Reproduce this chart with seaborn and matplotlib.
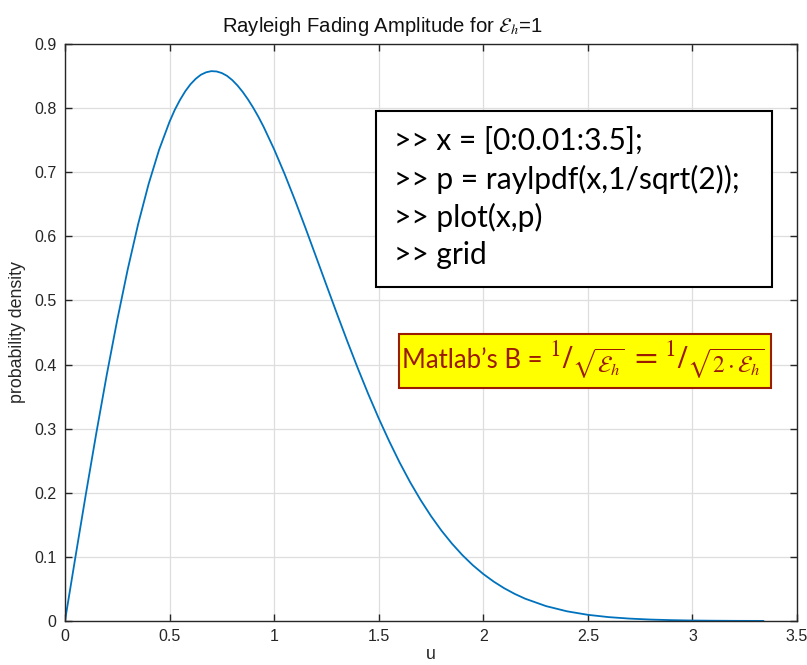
import matplotlib
matplotlib.use("Agg")
import matplotlib.pyplot as plt
import seaborn as sns
import pandas as pd
from matplotlib.patches import Rectangle

# values
u_vals = [0.000, 0.050, 0.100, 0.150, 0.200, 0.250, 0.300, 0.350, 0.400, 0.450,
          0.500, 0.525, 0.550, 0.575, 0.600, 0.625, 0.650, 0.675, 0.700, 0.725,
          0.750, 0.775, 0.800, 0.825, 0.850, 0.875, 0.900, 0.925, 0.950, 1.000,
          1.050, 1.100, 1.150, 1.200, 1.250, 1.300, 1.350, 1.400, 1.450, 1.500,
          1.550, 1.600, 1.650, 1.700, 1.750, 1.800, 1.850, 1.900, 1.950, 2.000,
          2.050, 2.100, 2.150, 2.200, 2.300, 2.400, 2.500, 2.600, 2.700, 2.800,
          2.900, 3.000, 3.100, 3.200, 3.340]
p_vals = [0.0000, 0.0998, 0.1980, 0.2933, 0.3843, 0.4697, 0.5484, 0.6193, 0.6817, 0.7350,
          0.7788, 0.7973, 0.8128, 0.8262, 0.8372, 0.8457, 0.8521, 0.8559, 0.8577, 0.8572,
          0.8547, 0.8503, 0.8437, 0.8353, 0.8252, 0.8136, 0.8007, 0.7864, 0.7707, 0.7358,
          0.6974, 0.6562, 0.6130, 0.5686, 0.5240, 0.4797, 0.4363, 0.3943, 0.3541, 0.3162,
          0.2806, 0.2473, 0.2167, 0.1889, 0.1637, 0.1410, 0.1208, 0.1028, 0.0870, 0.0733,
          0.0614, 0.0511, 0.0423, 0.0348, 0.0232, 0.0151, 0.0096, 0.0060, 0.0037, 0.0022,
          0.0013, 0.0007, 0.0004, 0.0002, 0.0001]
x_ticks = [0, 0.5, 1, 1.5, 2, 2.5, 3, 3.5]
x_tick_labels = ["0", "0.5", "1", "1.5", "2", "2.5", "3", "3.5"]
y_ticks = [0, 0.1, 0.2, 0.3, 0.4, 0.5, 0.6, 0.7, 0.8, 0.9]
y_tick_labels = ["0", "0.1", "0.2", "0.3", "0.4", "0.5", "0.6", "0.7", "0.8", "0.9"]
code_lines = [">> x = [0:0.01:3.5];", ">> p = raylpdf(x,1/sqrt(2));", ">> plot(x,p)", ">> grid"]
title_text = r"Rayleigh Fading Amplitude for $\mathcal{E}_h$=1"
note_prefix = "Matlab’s B = "
note_frac1 = r"$^1/_{\sqrt{\mathcal{E}_h}}$"
note_eq = r"$=$"
note_frac2 = r"$^1/_{\sqrt{2\cdot\mathcal{E}_h}}$"

sns.set_theme(style="white")
plt.rcParams["font.family"] = ["Liberation Sans", "DejaVu Sans"]
plt.rcParams["mathtext.fontset"] = "stix"

df = pd.DataFrame({"u": u_vals, "p": p_vals})

fig = plt.figure(figsize=(8.07, 6.65), dpi=100)
ax = fig.add_axes([0.0805, 0.0662, 0.9071, 0.8676])
sns.lineplot(data=df, x="u", y="p", ax=ax, color="#0072BD", linewidth=1.3)

ax.set_xlim(0, 3.5)
ax.set_ylim(0, 0.9)
ax.set_xticks(x_ticks)
ax.set_xticklabels(x_tick_labels)
ax.set_yticks(y_ticks)
ax.set_yticklabels(y_tick_labels)
ax.grid(True, color="#dedede", linewidth=0.9)
ax.tick_params(direction="in", length=5, width=1, colors="#262626",
               labelsize=11.5, top=True, right=True, bottom=True, left=True,
               labelcolor="#262626", pad=6)
for s in ax.spines.values():
    s.set_color("#262626")
    s.set_linewidth(1.0)
ax.set_xlabel("u", fontsize=12.8, color="#262626", labelpad=1)
ax.set_ylabel("probability density", fontsize=12.8, color="#262626", labelpad=6)
ax.set_title(title_text, fontsize=14.6, color="#111111", pad=9, x=0.434)

# code box
ax.add_patch(Rectangle((0.425, 0.579), 0.541, 0.305, transform=ax.transAxes,
                       facecolor="white", edgecolor="black", linewidth=1.5, zorder=5))
for i, line in enumerate(code_lines):
    ax.text(0.449, 0.832 - i * 0.066, line, transform=ax.transAxes,
            fontsize=21.5, family=["Lato", "DejaVu Sans"], va="center", ha="left",
            color="black", zorder=6)

# yellow note box
red = "#9b1b00"
ax.add_patch(Rectangle((0.456, 0.404), 0.508, 0.093, transform=ax.transAxes,
                       facecolor="#ffff00", edgecolor=red, linewidth=1.5, zorder=5))
t1 = ax.text(0.460, 0.452, note_prefix, transform=ax.transAxes, fontsize=18.5,
             family=["Lato", "DejaVu Sans"], va="center", ha="left",
             color=red, zorder=6)
t2 = ax.annotate(note_frac1, xy=(1.0, 0.5), xycoords=t1, xytext=(0, 0),
                 textcoords="offset points", fontsize=24, color=red,
                 va="center", ha="left", zorder=6, annotation_clip=False)
t3 = ax.annotate(note_eq, xy=(1.0, 0.5), xycoords=t2, xytext=(4, 3),
                 textcoords="offset points", fontsize=24, color=red,
                 va="center", ha="left", zorder=6, annotation_clip=False)
t4 = ax.annotate(note_frac2, xy=(1.0, 0.5), xycoords=t3, xytext=(4, -3),
                 textcoords="offset points", fontsize=24, color=red,
                 va="center", ha="left", zorder=6, annotation_clip=False)

fig.savefig("out.png", dpi=100)
